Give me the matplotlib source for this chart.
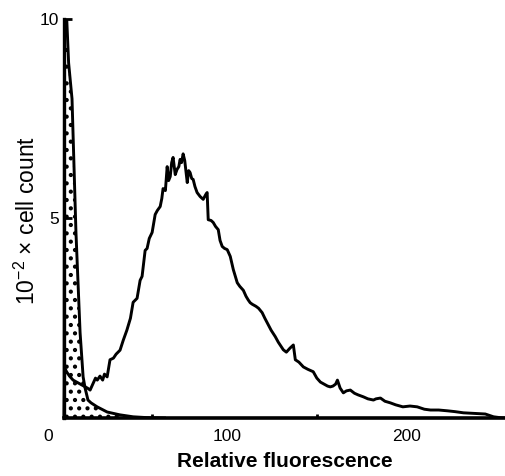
import matplotlib
matplotlib.use("Agg")
import matplotlib.pyplot as plt

plt.rcParams['font.family'] = ['Liberation Sans', 'DejaVu Sans']
plt.rcParams['mathtext.fontset'] = 'custom'
plt.rcParams['mathtext.rm'] = 'Liberation Sans'
plt.rcParams['mathtext.it'] = 'Liberation Sans:italic'
plt.rcParams['hatch.linewidth'] = 1.8

# control (stippled) histogram
neg_x = [9, 9.2, 10.5, 11.5, 13.4, 15.6, 17.9, 19.6, 20.7, 22.3, 24, 27.4, 30, 33, 36, 40, 47.5, 55, 65]
neg_y = [0, 9.9, 9.95, 8.9, 8.0, 4.65, 2.14, 1.03, 0.75, 0.45, 0.38, 0.28, 0.22, 0.15, 0.12, 0.08, 0.03, 0.01, 0]

# stained cells histogram
pos_x = [9, 9.3, 10.5, 12, 14, 16, 18, 20, 22, 23.5, 25, 26.5, 27.5, 29, 30.5, 31.5, 33, 34.6,
         36.5, 38, 40.2, 42, 44, 46, 47.5, 49.7, 51.4, 52.5, 54.2, 55.3, 56.5, 58.1, 59.8, 61,
         62.6, 63.5, 64.2, 65.5, 66.5, 67.3, 68.2, 69, 69.8, 71, 72, 73, 73.7, 74.5, 75.4, 76.3,
         77.7, 78.5, 79.3, 80.2, 81, 82, 83.2, 84.9, 86.6, 88, 88.8, 89.4, 91, 92.2, 93.5, 95,
         96, 97.2, 98.5, 100, 101.7, 103.4, 105.6, 107, 109, 110.5, 111.7, 112.8, 114, 116,
         117.5, 119.5, 121, 122.3, 124.5, 126.8, 128.5, 130, 131.3, 133, 135, 136.9, 138, 140,
         142.5, 145, 148, 150, 152, 154, 156, 157.5, 159, 160.5, 161.5, 163, 164.8, 166.5,
         168.7, 171, 173, 176, 178.5, 181.6, 183, 185.5, 188, 191, 194, 198, 202, 206, 210,
         213.4, 218, 222.9, 227, 231.8, 236, 241, 244, 248.6, 252, 255]
pos_y = [0, 1.25, 1.15, 1.05, 0.95, 0.9, 0.85, 0.8, 0.75, 0.7, 0.85, 1.0, 0.95, 1.05, 0.95, 1.1,
         1.03, 1.46, 1.5, 1.6, 1.7, 1.95, 2.2, 2.5, 2.9, 3.0, 3.45, 3.55, 4.2, 4.25, 4.5, 4.65,
         5.1, 5.2, 5.3, 5.5, 5.75, 5.7, 6.3, 5.95, 6.05, 6.4, 6.53, 6.1, 6.23, 6.3, 6.48, 6.4,
         6.62, 6.45, 5.9, 6.2, 6.15, 6.0, 5.98, 5.8, 5.65, 5.55, 5.48, 5.6, 5.65, 4.97, 4.95,
         4.9, 4.8, 4.72, 4.45, 4.3, 4.25, 4.22, 4.05, 3.72, 3.39, 3.3, 3.2, 3.05, 2.96, 2.89,
         2.85, 2.8, 2.75, 2.64, 2.5, 2.39, 2.2, 2.04, 1.9, 1.8, 1.71, 1.65, 1.75, 1.83, 1.46,
         1.4, 1.28, 1.22, 1.16, 1.0, 0.9, 0.85, 0.8, 0.78, 0.8, 0.85, 0.95, 0.75, 0.63, 0.68,
         0.7, 0.62, 0.58, 0.53, 0.48, 0.45, 0.48, 0.5, 0.42, 0.38, 0.33, 0.28, 0.3, 0.28, 0.22,
         0.2, 0.2, 0.18, 0.16, 0.13, 0.12, 0.11, 0.1, 0.03, 0.01, 0.0]

x_ticks = [0, 100, 200]
x_minor = [58, 100, 150, 200]
y_ticks = [5, 10]

fig = plt.figure(figsize=(5.06, 4.76), dpi=100)
ax = fig.add_axes([48 / 506, 58 / 476, 457 / 506, 399 / 476])

ax.fill_between(neg_x, neg_y, 0, facecolor="white", edgecolor="black", hatch="..", linewidth=0)
ax.plot(neg_x, neg_y, color="black", lw=2.1, solid_joinstyle="round")
ax.plot(pos_x, pos_y, color="black", lw=2.1, solid_joinstyle="round")

ax.set_xlim(0, 255)
ax.set_ylim(0, 10)

ax.spines["top"].set_visible(False)
ax.spines["right"].set_visible(False)
ax.spines["left"].set_position(("data", 9))
ax.spines["left"].set_bounds(0, 10)
ax.spines["bottom"].set_bounds(9, 255)
ax.spines["left"].set_linewidth(2.4)
ax.spines["bottom"].set_linewidth(2.6)

ax.set_xticks(x_ticks)
ax.set_xticklabels([str(t) for t in x_ticks])
ax.set_xticks(x_minor, minor=True)
ax.tick_params(axis="x", which="major", length=0, pad=8, labelsize=12.5)
ax.tick_params(axis="x", which="minor", direction="in", length=3, width=2)
ax.set_yticks(y_ticks)
ax.set_yticklabels([str(t) for t in y_ticks])
ax.tick_params(axis="y", direction="in", length=6, width=2, pad=4, labelsize=12.5)

ax.set_xlabel("Relative fluorescence", fontsize=15, fontweight="bold")
ax.xaxis.set_label_coords((285 - 48) / 457, -0.085)
ax.set_ylabel("10$^{-2}$ × cell count", fontsize=16.5)
ax.yaxis.set_label_coords(-0.018, 0.494)

fig.savefig("out.png", dpi=100, facecolor="white")
